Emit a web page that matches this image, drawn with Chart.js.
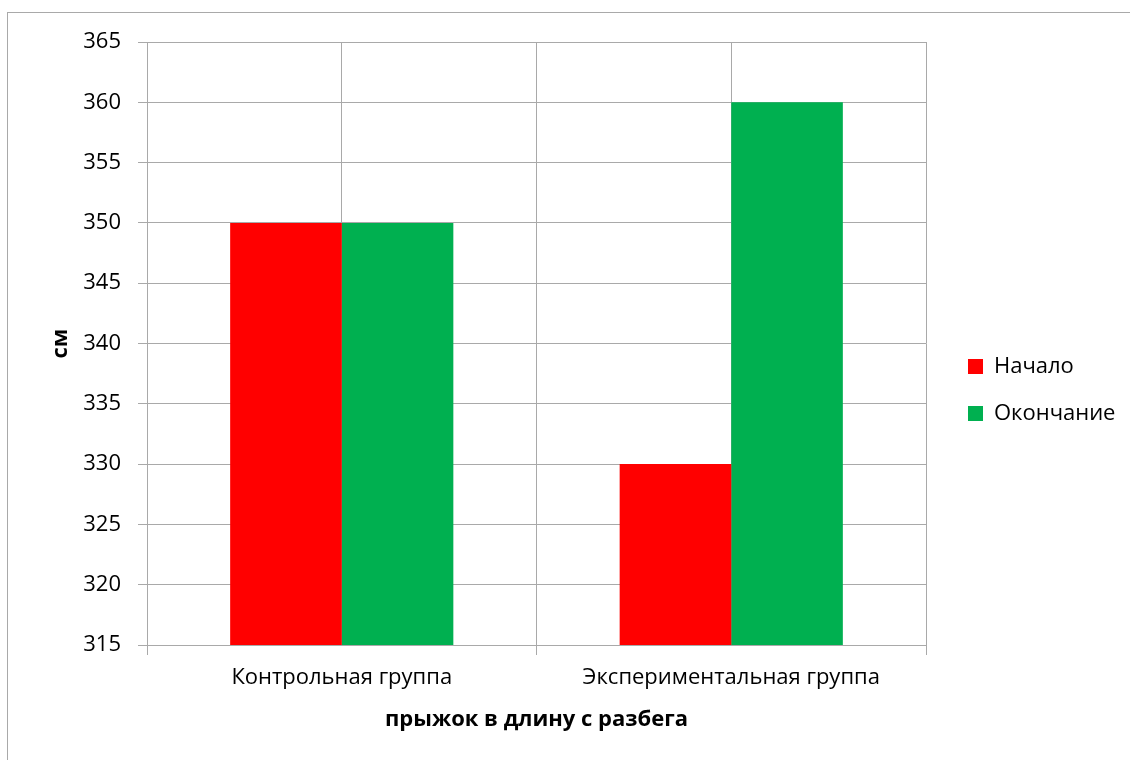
<!DOCTYPE html>
<html>
<head>
<meta charset="utf-8">
<script src="https://cdn.jsdelivr.net/npm/chart.js@4"></script>
<style>
  html, body { margin: 0; padding: 0; background: #fff; overflow: hidden; }
  #frame { position: absolute; left: 7px; top: 12px; width: 1200px; height: 800px; border: 1px solid #a9a9a9; }
  #wrap { position: absolute; left: 0; top: 0; width: 1130px; height: 760px; }
</style>
</head>
<body>
<div id="frame"></div>
<div id="wrap"><canvas id="jumpChart" width="1130" height="760"></canvas></div>
<script>
// Long jump results, cm
var groups = ['Контрольная группа', 'Экспериментальная группа'];
var startValues = [350, 330];
var endValues = [350, 360];
var seriesNames = ['Начало', 'Окончание'];

var gridColor = '#a9a9a9';
var fontFamily = '"Open Sans", "Noto Sans", sans-serif';

var ctx = document.getElementById('jumpChart').getContext('2d');

var jumpChart = new Chart(ctx, {
  type: 'bar',
  data: {
    labels: groups,
    datasets: [
      { label: seriesNames[0], data: startValues, backgroundColor: '#ff0000', xAxisID: 'x' },
      { label: seriesNames[1], data: endValues, backgroundColor: '#00b050', xAxisID: 'x' }
    ]
  },
  options: {
    responsive: false,
    animation: false,
    layout: { padding: { left: 48, top: 42, right: 8, bottom: 22 } },
    datasets: {
      bar: { barPercentage: 1, categoryPercentage: 0.573 }
    },
    scales: {
      y: {
        min: 315,
        max: 365,
        ticks: { stepSize: 5, padding: 17, color: '#000', font: { family: fontFamily, size: 22 } },
        grid: { color: gridColor, tickLength: 9 },
        border: { color: gridColor },
        title: { display: true, text: 'см', color: '#000', padding: 0, font: { family: fontFamily, size: 22, weight: 'bold' } },
        afterFit: function (scale) { scale.width = 147 - 48; }
      },
      // empty gap between the plot and the legend
      gap: {
        type: 'linear',
        position: 'right',
        ticks: { display: false },
        grid: { display: false },
        border: { display: false },
        afterFit: function (scale) { scale.width = 17; }
      },
      x: {
        position: 'bottom',
        ticks: { padding: 10, color: '#000', font: { family: fontFamily, size: 22 } },
        grid: { color: gridColor, offset: true, tickLength: 10 },
        border: { color: gridColor },
        title: { display: true, text: 'прыжок в длину с разбега', color: '#000', padding: { top: 5, bottom: 5 }, font: { family: fontFamily, size: 22, weight: 'bold' } },
        afterFit: function (scale) { scale.height = 738 - 645; }
      },
      // second category axis: vertical lines through the group centres
      xc: {
        type: 'category',
        position: 'top',
        offset: true,
        ticks: { display: false },
        grid: { color: gridColor, offset: false, drawTicks: false },
        border: { display: false },
        afterFit: function (scale) { scale.height = 0; }
      }
    },
    plugins: {
      tooltip: { enabled: false },
      legend: {
        position: 'right',
        labels: {
          color: '#000',
          boxWidth: 15,
          boxHeight: 15,
          padding: 25,
          font: { family: fontFamily, size: 22 }
        }
      }
    }
  }
});
</script>
</body>
</html>
